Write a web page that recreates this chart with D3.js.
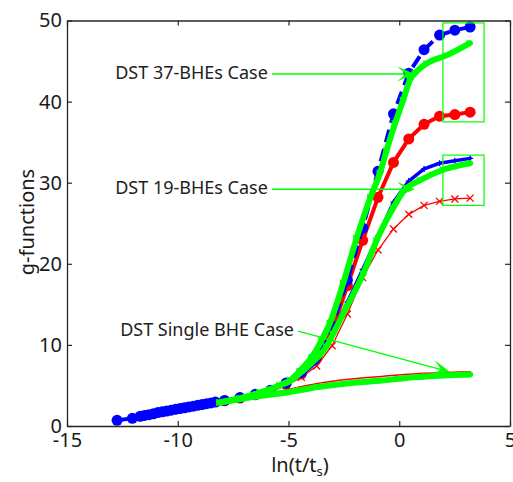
<!DOCTYPE html>
<html>
<head>
<meta charset="utf-8">
<script src="https://cdn.jsdelivr.net/npm/d3@7"></script>
<style>
  body { margin: 0; background: #fff; }
  text { font-family: "Noto Sans", "Open Sans", sans-serif; }
</style>
</head>
<body>
<svg id="chart" width="513" height="482"></svg>
<script>
// ---- data: x = ln(t/ts), y = g-function value ----
// 37-BHE field, reference solution (blue dashed, circles)
const blue37X = [-12.74, -12.05, -11.7, -11.5, -11.3, -11.1, -10.9, -10.7, -10.5, -10.3, -10.1, -9.9, -9.7, -9.5, -9.3, -9.1, -8.9, -8.7, -8.5, -8.3,
                 -7.88, -7.19, -6.5, -5.81, -5.11, -4.42, -3.73, -3.03, -2.34, -1.65, -0.96, -0.26, 0.43, 1.12, 1.82, 2.51, 3.2];
const blue37Y = [0.7, 0.95, 1.2, 1.3, 1.4, 1.5, 1.65, 1.75, 1.85, 1.95, 2.05, 2.15, 2.25, 2.35, 2.45, 2.55, 2.65, 2.75, 2.85, 2.95,
                 3.15, 3.5, 3.9, 4.4, 5.3, 6.6, 8.6, 12.3, 18.0, 24.4, 31.4, 38.5, 43.5, 46.4, 48.2, 48.8, 49.2];
// 37-BHE field, second model (red solid, circles)
const red37X = [-7.88, -7.19, -6.5, -5.81, -5.11, -4.42, -3.73, -3.03, -2.34, -1.65, -0.96, -0.26, 0.43, 1.12, 1.82, 2.51, 3.2];
const red37Y = [3.1, 3.45, 3.85, 4.35, 5.2, 6.4, 8.3, 11.8, 17.3, 22.9, 28.2, 32.5, 35.4, 37.2, 38.2, 38.4, 38.7];
// 19-BHE field, reference solution (blue solid, plus markers)
const blue19X = [-7.88, -7.19, -6.5, -5.81, -5.11, -4.42, -3.73, -3.03, -2.34, -1.65, -0.96, -0.26, 0.43, 1.12, 1.82, 2.51, 3.2];
const blue19Y = [3.1, 3.45, 3.85, 4.35, 5.2, 6.3, 7.9, 11.3, 15.3, 19.3, 23.4, 27.6, 30.2, 31.7, 32.4, 32.7, 33.0];
// 19-BHE field, second model (thin red, x markers)
const red19X = [-7.88, -7.19, -6.5, -5.81, -5.11, -4.42, -3.73, -3.03, -2.34, -1.65, -0.96, -0.26, 0.43, 1.12, 1.82, 2.51, 3.2];
const red19Y = [3.1, 3.45, 3.85, 4.3, 5.0, 6.0, 7.4, 9.9, 13.8, 18.3, 21.7, 24.3, 26.1, 27.2, 27.7, 28.0, 28.1];
// single BHE, second model (thin red)
const redSingleX = [-6.3, -5.4, -4.5, -3.7, -2.8, -1.8, -0.8, 0.2, 1.2, 2.2, 3.2];
const redSingleY = [3.85, 4.3, 4.8, 5.25, 5.6, 5.9, 6.1, 6.35, 6.5, 6.6, 6.7];
// DST results (green)
const dst37X = [-8.1, -7.2, -6.3, -5.4, -4.9, -4.48, -3.95, -3.5, -3.13, -2.53, -1.92, -1.3, -0.87, -0.57, -0.19, 0.18, 0.49, 0.71, 1.24, 2.14, 3.19];
const dst37Y = [2.9, 3.4, 4.1, 5.0, 5.7, 6.8, 8.5, 10.6, 12.7, 17.6, 23.2, 28.2, 31.2, 34.0, 37.3, 40.2, 42.7, 43.5, 44.7, 45.7, 47.2];
const dst19X = [-8.1, -7.2, -6.3, -5.4, -4.9, -4.48, -3.95, -3.5, -3.28, -2.98, -2.37, -1.62, -1.02, -0.27, 0.18, 0.94, 1.99, 3.2];
const dst19Y = [2.9, 3.4, 4.1, 5.0, 5.6, 6.5, 7.8, 9.0, 9.8, 11.4, 14.7, 18.8, 22.9, 26.9, 28.9, 30.3, 31.6, 32.4];
const dstSingleX = [-8.1, -7.2, -6.3, -5.4, -4.5, -3.7, -2.8, -1.8, -0.8, 0.2, 1.2, 2.2, 3.2];
const dstSingleY = [2.9, 3.3, 3.7, 4.0, 4.4, 4.8, 5.1, 5.4, 5.6, 5.9, 6.1, 6.25, 6.35];

// axis ticks
const xTicks = [-15, -10, -5, 0, 5];
const yTicks = [0, 10, 20, 30, 40, 50];

// annotation text and arrows (data units)
const annoLabels = ["DST 37-BHEs Case", "DST 19-BHEs Case", "DST Single BHE Case"];
const arrowFrom = [[-5.75, 43.4], [-5.75, 29.2], [-4.57, 11.7]];
const arrowTo = [[0.71, 43.4], [0.71, 29.2], [2.29, 6.66]];
// zoom boxes around the late-time values [x0, x1, y0, y1]
const boxes = [[1.97, 3.83, 37.5, 49.7], [1.97, 3.83, 27.2, 33.4]];

// ---- drawing ----
const svg = d3.select("#chart");
svg.append("rect").attr("width", 513).attr("height", 482).attr("fill", "#fff");

const x = d3.scaleLinear().domain([-15, 5]).range([67, 510]);
const y = d3.scaleLinear().domain([0, 50]).range([426, 20.5]);

const zip = (a, b) => a.map((v, i) => [v, b[i]]);
const line = d3.line().x(d => x(d[0])).y(d => y(d[1]));
const smooth = d3.line().x(d => x(d[0])).y(d => y(d[1])).curve(d3.curveMonotoneX);

const BLUE = "#0000ff", RED = "#ff0000", GREEN = "#00ff00", AXIS = "#262626";

const plot = svg.append("g");

function path(data, gen, color, width, dash) {
  const p = plot.append("path").attr("d", gen(data)).attr("fill", "none")
    .attr("stroke", color).attr("stroke-width", width)
    .attr("stroke-linejoin", "round").attr("stroke-linecap", "round");
  if (dash) p.attr("stroke-dasharray", dash).attr("stroke-linecap", "butt");
  return p;
}
function circles(data, color, r) {
  plot.append("g").selectAll("circle").data(data).join("circle")
    .attr("cx", d => x(d[0])).attr("cy", d => y(d[1])).attr("r", r).attr("fill", color);
}
function crosses(data, color, s, w, plus) {
  plot.append("g").selectAll("path").data(data).join("path")
    .attr("d", d => {
      const cx = x(d[0]), cy = y(d[1]);
      return plus
        ? `M${cx - s},${cy}L${cx + s},${cy}M${cx},${cy - s}L${cx},${cy + s}`
        : `M${cx - s},${cy - s}L${cx + s},${cy + s}M${cx - s},${cy + s}L${cx + s},${cy - s}`;
    })
    .attr("stroke", color).attr("stroke-width", w).attr("fill", "none");
}
function triangles(data, color, s) {
  plot.append("g").selectAll("path").data(data).join("path")
    .attr("d", d => {
      const cx = x(d[0]), cy = y(d[1]);
      return `M${cx + s},${cy}L${cx - s},${cy - s}L${cx - s},${cy + s}Z`;
    })
    .attr("fill", color);
}

const red37 = zip(red37X, red37Y);
const red19 = zip(red19X, red19Y);
const redSingle = zip(redSingleX, redSingleY);
const blue37 = zip(blue37X, blue37Y);
const blue19 = zip(blue19X, blue19Y);
const dst37 = zip(dst37X, dst37Y);
const dst19 = zip(dst19X, dst19Y);
const dstSingle = zip(dstSingleX, dstSingleY);

// red curves
path(red19, line, RED, 1.3);
crosses(red19, RED, 3.5, 1.3, false);
path(redSingle, smooth, RED, 1.5);
path(red37, line, RED, 4);
circles(red37, RED, 5.5);

// blue curves
path(blue19, line, BLUE, 3.5);
crosses(blue19, BLUE, 3, 1.3, true);
path(blue37, line, BLUE, 4, "13,7");
circles(blue37, BLUE, 5.5);

// DST curves (green)
[dst37, dst19, dstSingle].forEach(d => {
  path(d, smooth, GREEN, 6);
  triangles(d, GREEN, 3.4);
});

// boxes around the late-time values
plot.append("g").selectAll("rect").data(boxes).join("rect")
  .attr("x", d => x(d[0])).attr("y", d => y(d[3]))
  .attr("width", d => x(d[1]) - x(d[0])).attr("height", d => y(d[2]) - y(d[3]))
  .attr("fill", "none").attr("stroke", GREEN).attr("stroke-width", 1.2);

// annotation arrows and labels
const anno = svg.append("g");
annoLabels.forEach((label, i) => {
  const x0 = x(arrowFrom[i][0]), y0 = y(arrowFrom[i][1]);
  const x1 = x(arrowTo[i][0]), y1 = y(arrowTo[i][1]);
  const a = Math.atan2(y1 - y0, x1 - x0);
  const L = 18, W = 7.5, N = 9;
  const ux = Math.cos(a), uy = Math.sin(a), px = -uy, py = ux;
  anno.append("line").attr("x1", x0).attr("y1", y0)
    .attr("x2", x1 - ux * N).attr("y2", y1 - uy * N)
    .attr("stroke", GREEN).attr("stroke-width", 1.5);
  const head = [
    [x1, y1],
    [x1 - ux * L + px * W, y1 - uy * L + py * W],
    [x1 - ux * N, y1 - uy * N],
    [x1 - ux * L - px * W, y1 - uy * L - py * W]
  ];
  anno.append("path").attr("d", "M" + head.map(p => p.join(",")).join("L") + "Z")
    .attr("fill", GREEN);
  anno.append("text").attr("x", x0 - 4).attr("y", y0)
    .attr("text-anchor", "end").attr("dominant-baseline", "middle")
    .attr("font-size", 18).attr("fill", "#222").text(label);
});

// axes: box with inward ticks on all four sides
const fmt = d => String(d);
const axB = svg.append("g").attr("transform", `translate(0,${y(0)})`)
  .call(d3.axisBottom(x).tickValues(xTicks).tickSizeInner(-5).tickSizeOuter(0).tickPadding(7).tickFormat(fmt));
const axT = svg.append("g").attr("transform", `translate(0,${y(50)})`)
  .call(d3.axisTop(x).tickValues(xTicks).tickSizeInner(-5).tickSizeOuter(0).tickFormat(""));
const axL = svg.append("g").attr("transform", `translate(${x(-15)},0)`)
  .call(d3.axisLeft(y).tickValues(yTicks).tickSizeInner(-5).tickSizeOuter(0).tickPadding(5).tickFormat(fmt));
const axR = svg.append("g").attr("transform", `translate(${x(5)},0)`)
  .call(d3.axisRight(y).tickValues(yTicks).tickSizeInner(-5).tickSizeOuter(0).tickFormat(""));
[axB, axT, axL, axR].forEach(g => {
  g.select(".domain").attr("stroke", AXIS).attr("stroke-width", 1.3);
  g.selectAll(".tick line").attr("stroke", AXIS).attr("stroke-width", 1.2);
  g.selectAll(".tick text").attr("font-size", 20).attr("fill", "#1a1a1a")
    .style("font-family", '"Noto Sans", "Open Sans", sans-serif');
});

// axis titles
svg.append("text").attr("transform", "translate(34,222) rotate(-90)")
  .attr("text-anchor", "middle").attr("font-size", 20).attr("fill", "#1a1a1a").text("g-functions");
const xl = svg.append("text").attr("x", 300).attr("y", 472)
  .attr("text-anchor", "middle").attr("font-size", 20).attr("fill", "#1a1a1a");
xl.append("tspan").text("ln(t/t");
xl.append("tspan").attr("font-size", 13).attr("dy", 4).text("s");
xl.append("tspan").attr("dy", -4).text(")");
</script>
</body>
</html>
